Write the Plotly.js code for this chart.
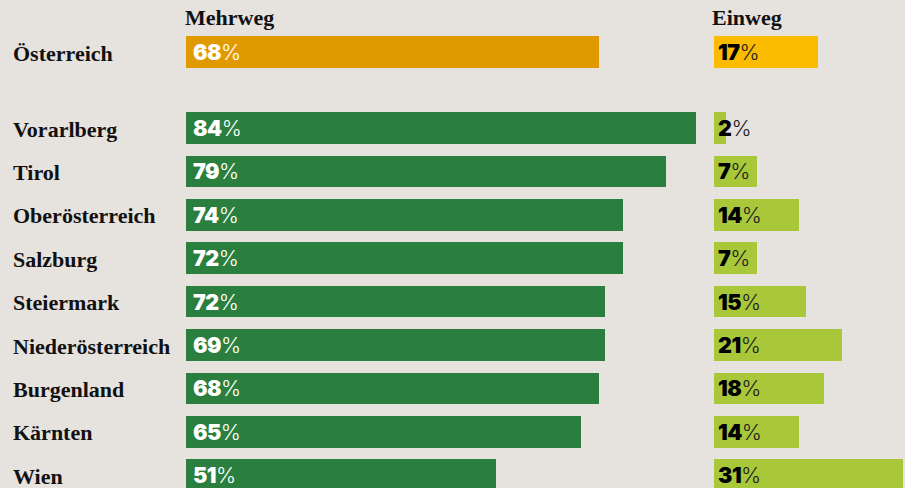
<!DOCTYPE html>
<html>
<head>
<meta charset="utf-8">
<script src="https://cdn.plot.ly/plotly-3.0.1.min.js"></script>
<style>
html,body{margin:0;padding:0;background:#e6e2de;}
#chart{width:905px;height:488px;}
</style>
</head>
<body>
<div id="chart"></div>
<script>
// ---- data ----
var totalLabel = ['Österreich'];
var totalMehrweg = [68];
var totalEinweg = [17];

var regions = ['Vorarlberg','Tirol','Oberösterreich','Salzburg','Steiermark','Niederösterreich','Burgenland','Kärnten','Wien'];
// bar lengths as drawn in the picture
var mehrwegBars = [84, 79, 72, 72, 69, 69, 68, 65, 51];
// value labels as printed
var mehrwegLabels = [84, 79, 74, 72, 72, 69, 68, 65, 51];
var einwegBars = [2, 7, 14, 7, 15, 21, 18, 14, 31];
var einwegLabels = [2, 7, 14, 7, 15, 21, 18, 14, 31];

var headers = ['Mehrweg', 'Einweg'];

// ---- styles ----
var W = 905, H = 488;
var BG = '#e6e2de';
var cOrange = '#e09a00', cYellow = '#fbbb00', cGreen = '#2b7f3e', cLime = '#a8c83a';
var serif = 'Liberation Serif, Times New Roman, serif';
var sans = 'Inter, Lato, sans-serif';
var barW = 0.73;

function bar(y, x, color, xa, ya) {
  return {type:'bar', orientation:'h', y:y, x:x, xaxis:xa, yaxis:ya,
    marker:{color:color, line:{width:0}}, width:barW, hoverinfo:'skip', showlegend:false};
}

var data = [
  bar(totalLabel, totalMehrweg, cOrange, 'x', 'y'),
  bar(totalLabel, totalEinweg, cYellow, 'x2', 'y'),
  bar(regions, mehrwegBars, cGreen, 'x3', 'y2'),
  bar(regions, einwegBars, cLime, 'x4', 'y2')
];

function numText(v, pctColor) {
  return "<span style='font-weight:900;letter-spacing:-0.5px'>" + v + "</span><span style='font-weight:300" +
    (pctColor ? ";color:" + pctColor : "") + "'>%</span>";
}

var annotations = [];
function valAnn(xref, yref, y, v, color, pctColor, shift) {
  annotations.push({xref:xref, yref:yref, x:0, y:y, xanchor:'left', yanchor:'middle',
    xshift:shift, yshift:0, showarrow:false, text:numText(v, pctColor),
    font:{family:sans, size:21.5, color:color}});
}
function rowLabel(yref, y, t) {
  annotations.push({xref:'paper', yref:yref, x:11/W, y:y, xanchor:'left', yanchor:'middle',
    yshift:-1, showarrow:false, text:'<b>' + t + '</b>', font:{family:serif, size:22, color:'#111'}});
}

rowLabel('y', totalLabel[0], totalLabel[0]);
valAnn('x', 'y', totalLabel[0], totalMehrweg[0], '#ffffff', null, 5);
valAnn('x2', 'y', totalLabel[0], totalEinweg[0], '#000000', '#222', 2);
for (var i = 0; i < regions.length; i++) {
  rowLabel('y2', regions[i], regions[i]);
  valAnn('x3', 'y2', regions[i], mehrwegLabels[i], '#ffffff', null, 5);
  valAnn('x4', 'y2', regions[i], einwegLabels[i], '#000000', '#222', 2);
}
// column headers
annotations.push({xref:'paper', yref:'paper', x:183/W, y:1 - 17/H, xanchor:'left', yanchor:'middle',
  showarrow:false, text:'<b>' + headers[0] + '</b>', font:{family:serif, size:22, color:'#111'}});
annotations.push({xref:'paper', yref:'paper', x:710/W, y:1 - 17/H, xanchor:'left', yanchor:'middle',
  showarrow:false, text:'<b>' + headers[1] + '</b>', font:{family:serif, size:22, color:'#111'}});

var unit = 43.4;
var leftX0 = 186, scaleL = 6.074, leftMax = 85;
var rightX0 = 714, scaleR = 6.1;
var rightMax = (W - rightX0) / scaleR;
var leftDom = [leftX0 / W, (leftX0 + leftMax * scaleL) / W];
var rightDom = [rightX0 / W, 1];

var topC = 52, botTop = 128 - unit / 2;
var yTopDom = [1 - (topC + unit / 2) / H, 1 - (topC - unit / 2) / H];
var yBotDom = [0, 1 - botTop / H];
var botMax = -0.5 + (H - botTop) / unit;

function xax(dom, max, anchor) {
  return {domain:dom, range:[0, max], anchor:anchor, showgrid:false, zeroline:false,
    showticklabels:false, showline:false, ticks:'', fixedrange:true};
}
function yax(dom, range, cats) {
  return {domain:dom, range:range, type:'category', categoryorder:'array', categoryarray:cats,
    showgrid:false, zeroline:false, showticklabels:false, showline:false, ticks:'', fixedrange:true};
}

var layout = {
  width:W, height:H, margin:{l:0, r:0, t:0, b:0},
  paper_bgcolor:BG, plot_bgcolor:BG, showlegend:false, bargap:0,
  xaxis: xax(leftDom, leftMax, 'y'),
  xaxis2: xax(rightDom, rightMax, 'y'),
  xaxis3: xax(leftDom, leftMax, 'y2'),
  xaxis4: xax(rightDom, rightMax, 'y2'),
  yaxis: yax(yTopDom, [0.5, -0.5], totalLabel),
  yaxis2: yax(yBotDom, [botMax, -0.5], regions),
  annotations: annotations
};

Plotly.newPlot('chart', data, layout, {displayModeBar:false, staticPlot:true});
</script>
</body>
</html>
